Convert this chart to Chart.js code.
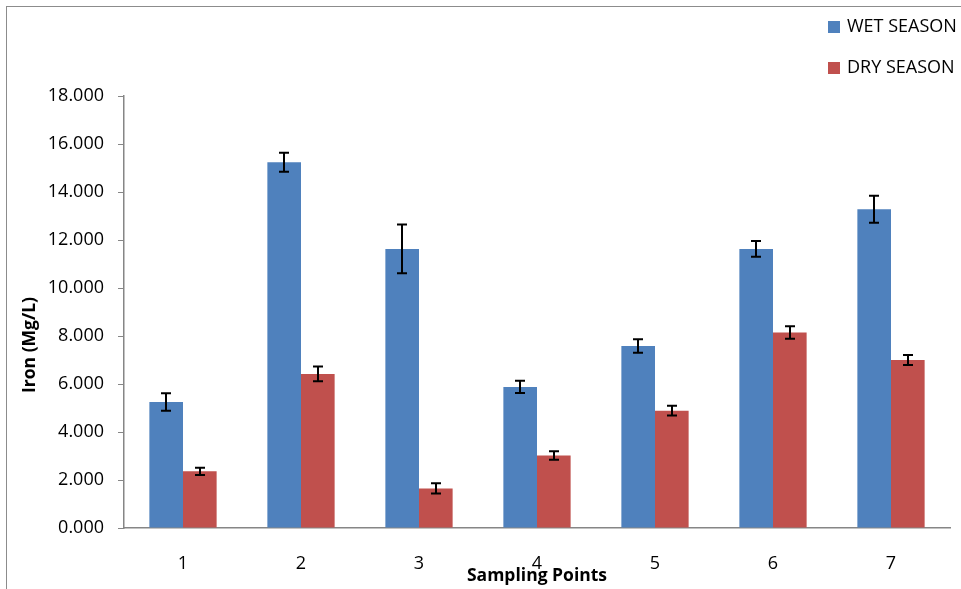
<!DOCTYPE html>
<html>
<head>
<meta charset="utf-8">
<script src="https://cdn.jsdelivr.net/npm/chart.js@4/dist/chart.umd.min.js"></script>
<style>
    html, body { margin: 0; padding: 0; background: #fff; overflow: hidden; }
    #wrap { position: relative; width: 961px; height: 589px; }
    #frame { position: absolute; left: 6px; top: 6px; width: 1000px; height: 1000px; border: 1px solid #8c8c8c; box-sizing: border-box; }
    .leg { position: absolute; left: 828px; font: 18px "Open Sans", sans-serif; color: #000; white-space: nowrap; }
    .leg span { display: inline-block; width: 12px; height: 12px; margin-right: 7px; vertical-align: -1px; }
</style>
</head>
<body>
<div id="wrap">
    <div id="frame"></div>
    <canvas id="ironChart" width="961" height="589"></canvas>
    <div class="leg" style="top:13px"><span style="background:#4F81BD"></span>WET SEASON</div>
    <div class="leg" style="top:54px"><span style="background:#C0504D"></span>DRY SEASON</div>
</div>
<script>
// Podaci sa grafikona (ocitano sa slike)
const samplingPoints = ['1', '2', '3', '4', '5', '6', '7'];
const wetSeason = [5.25, 15.24, 11.63, 5.88, 7.58, 11.63, 13.28];
const wetErr = [0.36, 0.40, 1.02, 0.26, 0.28, 0.33, 0.56];
const drySeason = [2.36, 6.42, 1.65, 3.02, 4.89, 8.15, 7.00];
const dryErr = [0.15, 0.31, 0.21, 0.18, 0.20, 0.26, 0.21];
const yTicks = [0, 2, 4, 6, 8, 10, 12, 14, 16, 18];

const tickFont = { family: '"Open Sans", sans-serif', size: 18 };
const axisColor = '#868686';

/**
 * Crta error barove preko stubaca
 */
const errorBars = {
    id: 'errorBars',
    afterDatasetsDraw(chart) {
        const ctx = chart.ctx;
        const yScale = chart.scales.y;
        const errs = [wetErr, dryErr];
        ctx.save();
        ctx.strokeStyle = '#000';
        ctx.lineWidth = 2;
        chart.data.datasets.forEach((ds, i) => {
            const meta = chart.getDatasetMeta(i);
            meta.data.forEach((bar, j) => {
                const v = ds.data[j];
                const e = errs[i][j];
                const top = yScale.getPixelForValue(v + e);
                const bot = yScale.getPixelForValue(v - e);
                const x = Math.round(bar.x);
                ctx.beginPath();
                ctx.moveTo(x, top);
                ctx.lineTo(x, bot);
                ctx.moveTo(x - 5, top);
                ctx.lineTo(x + 5, top);
                ctx.moveTo(x - 5, bot);
                ctx.lineTo(x + 5, bot);
                ctx.stroke();
            });
        });
        ctx.restore();
    }
};

/**
 * Naslovi osa
 */
const axisTitles = {
    id: 'axisTitles',
    afterDraw(chart) {
        const ctx = chart.ctx;
        ctx.save();
        ctx.fillStyle = '#000';
        ctx.font = 'bold 17.5px "Open Sans", sans-serif';
        ctx.textAlign = 'center';
        ctx.textBaseline = 'middle';
        const area = chart.chartArea;
        ctx.fillText('Sampling Points', (area.left + area.right) / 2, 576);
        ctx.translate(30, 345);
        ctx.rotate(-Math.PI / 2);
        ctx.fillText('Iron (Mg/L)', 0, 0);
        ctx.restore();
    }
};

new Chart(document.getElementById('ironChart'), {
    type: 'bar',
    data: {
        labels: samplingPoints,
        datasets: [
            {
                label: 'WET SEASON',
                data: wetSeason,
                backgroundColor: '#4F81BD',
                categoryPercentage: 0.57,
                barPercentage: 1
            },
            {
                label: 'DRY SEASON',
                data: drySeason,
                backgroundColor: '#C0504D',
                categoryPercentage: 0.57,
                barPercentage: 1
            }
        ]
    },
    options: {
        responsive: false,
        animation: false,
        layout: {
            padding: { left: 0, right: 11, top: 96, bottom: 0 }
        },
        plugins: {
            legend: { display: false },
            tooltip: { enabled: false }
        },
        scales: {
            x: {
                afterFit(scale) { scale.height = 61; },
                ticks: {
                    color: '#000',
                    font: tickFont,
                    padding: 25
                },
                grid: {
                    display: true,
                    drawOnChartArea: false,
                    drawTicks: false
                },
                border: { color: axisColor, width: 1.5 }
            },
            y: {
                min: 0,
                max: 18,
                afterFit(scale) { scale.width = 124; },
                afterBuildTicks(scale) {
                    scale.ticks = yTicks.map(v => ({ value: v }));
                },
                ticks: {
                    color: '#000',
                    font: tickFont,
                    padding: 14,
                    callback: v => v.toFixed(3)
                },
                grid: {
                    drawOnChartArea: false,
                    tickLength: 6,
                    color: axisColor
                },
                border: { color: axisColor, width: 1.5 }
            }
        }
    },
    plugins: [errorBars, axisTitles]
});
</script>
</body>
</html>
